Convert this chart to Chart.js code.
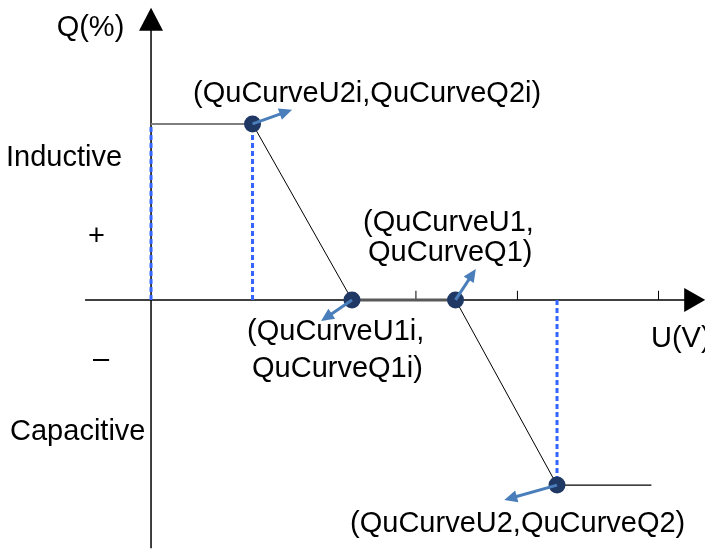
<!DOCTYPE html>
<html>
<head>
<meta charset="utf-8">
<script src="https://cdn.jsdelivr.net/npm/chart.js@4.4.1/dist/chart.umd.min.js"></script>
<style>
  html, body { margin: 0; padding: 0; background: #fff; }
  #wrap { width: 705px; height: 552px; position: relative; }
</style>
</head>
<body>
<div id="wrap"><canvas id="qu"></canvas></div>
<script>
// Q(U) characteristic curve: U in arbitrary units, Q in %
const curveU = [0, 1.0, 1.98, 3.0, 4.0, 4.93];
const curveQ = [50, 50, 0, 0, -52.6, -52.6];

// blue arrows pointing from each key point toward its label
const arrowFromU = [1.0, 1.98, 3.0, 4.0];
const arrowFromQ = [50, 0, 0, -52.6];
const arrowToU = [1.39, 1.675, 3.2, 3.48];
const arrowToQ = [54, -6, 8.8, -56.8];

// dashed projections onto the U axis
const dropU = [0, 1.0, 4.0];
const dropQ = [50, 50, -52.6];

// small tick marks on the U axis
const tickU = [2.61, 3.61, 5.0];

// axis extents
const axisU = [-0.65, 5.46];
const axisQ = [-70.5, 83];

const labels = [
  { text: 'Q(%)', u: -0.93, q: 77.2 },
  { text: '(QuCurveU2i,QuCurveQ2i)', u: 0.414, q: 58.5 },
  { text: 'Inductive', u: -1.429, q: 40.3 },
  { text: '+', u: -0.621, q: 17.9 },
  { text: '(QuCurveU1,', u: 2.089, q: 21.9 },
  { text: 'QuCurveQ1)', u: 2.138, q: 13.3 },
  { text: '(QuCurveU1i,', u: 0.946, q: -9.1 },
  { text: 'QuCurveQ1i)', u: 0.995, q: -19.6 },
  { text: 'U(V)', u: 4.926, q: -11.1 },
  { text: '\u2013', u: -0.571, q: -17.0 },
  { text: 'Capacitive', u: -1.389, q: -37.5 },
  { text: '(QuCurveU2,QuCurveQ2)', u: 1.961, q: -63.6 }
];

const segColors = ['#7f7f7f', '#000000', '#595959', '#000000', '#000000'];
const segWidths = [2, 1, 3, 1, 1.2];

const pts = (us, qs) => us.map((u, i) => ({ x: u, y: qs[i] }));

const datasets = [];
datasets.push({
  data: pts(curveU, curveQ),
  showLine: true,
  borderColor: '#000',
  borderWidth: 1,
  segment: {
    borderColor: ctx => segColors[ctx.p0DataIndex],
    borderWidth: ctx => segWidths[ctx.p0DataIndex]
  },
  pointRadius: curveU.map((u, i) => (i === 0 || i === curveU.length - 1) ? 0 : 7.5),
  pointBackgroundColor: '#1f3864',
  pointBorderColor: '#1f3864',
  pointBorderWidth: 2,
  clip: false
});
dropU.forEach((u, i) => {
  datasets.push({
    data: [{ x: u, y: 0 }, { x: u, y: dropQ[i] }],
    showLine: true, borderColor: '#3366ff', borderWidth: 3,
    borderDash: [5, 3], pointRadius: 0
  });
});
// axes
datasets.push({
  data: [{ x: axisU[0], y: 0 }, { x: axisU[1] - 0.2, y: 0 }],
  showLine: true, borderColor: '#000', borderWidth: 1.5, pointRadius: 0, clip: false
});
datasets.push({
  data: [{ x: 0, y: axisQ[0] }, { x: 0, y: axisQ[1] - 6 }],
  showLine: true, borderColor: '#000', borderWidth: 1.5, pointRadius: 0, clip: false
});
tickU.forEach(u => {
  datasets.push({
    data: [{ x: u, y: 0 }, { x: u, y: 2.6 }],
    showLine: true, borderColor: '#000', borderWidth: 1, pointRadius: 0
  });
});

function arrowHead(ctx, x0, y0, x1, y1, len, half) {
  const a = Math.atan2(y1 - y0, x1 - x0);
  ctx.beginPath();
  ctx.moveTo(x1, y1);
  ctx.lineTo(x1 - len * Math.cos(a) + half * Math.sin(a), y1 - len * Math.sin(a) - half * Math.cos(a));
  ctx.lineTo(x1 - len * Math.cos(a) - half * Math.sin(a), y1 - len * Math.sin(a) + half * Math.cos(a));
  ctx.closePath();
  ctx.fill();
}

const decor = {
  id: 'decor',
  afterDatasetsDraw(chart) {
    const ctx = chart.ctx;
    const xs = chart.scales.x, ys = chart.scales.y;
    ctx.save();
    // axis arrow heads
    ctx.fillStyle = '#000';
    const ox = xs.getPixelForValue(0), oy = ys.getPixelForValue(0);
    arrowHead(ctx, ox, oy, xs.getPixelForValue(axisU[1]), oy, 21, 12);
    arrowHead(ctx, ox, oy, ox, ys.getPixelForValue(axisQ[1]), 23, 12);
    // blue label arrows
    ctx.strokeStyle = '#4a7ebb';
    ctx.fillStyle = '#4a7ebb';
    ctx.lineWidth = 3;
    arrowFromU.forEach((u, i) => {
      const x0 = xs.getPixelForValue(u), y0 = ys.getPixelForValue(arrowFromQ[i]);
      const x1 = xs.getPixelForValue(arrowToU[i]), y1 = ys.getPixelForValue(arrowToQ[i]);
      const a = Math.atan2(y1 - y0, x1 - x0);
      ctx.beginPath();
      ctx.moveTo(x0, y0);
      ctx.lineTo(x1 - 10 * Math.cos(a), y1 - 10 * Math.sin(a));
      ctx.stroke();
      arrowHead(ctx, x0, y0, x1, y1, 13, 6);
    });
    // text
    ctx.fillStyle = '#000';
    ctx.font = "29px 'Liberation Sans', Arial, sans-serif";
    ctx.textAlign = 'left';
    ctx.textBaseline = 'middle';
    labels.forEach(l => {
      ctx.fillText(l.text, xs.getPixelForValue(l.u), ys.getPixelForValue(l.q));
    });
    ctx.restore();
  }
};

new Chart(document.getElementById('qu'), {
  type: 'scatter',
  data: { datasets },
  options: {
    responsive: true,
    maintainAspectRatio: false,
    animation: false,
    layout: { padding: 0 },
    plugins: { legend: { display: false }, tooltip: { enabled: false } },
    scales: {
      x: { type: 'linear', min: -1.488, max: 5.458, display: false },
      y: { type: 'linear', min: -71.6, max: 85.2, display: false }
    }
  },
  plugins: [decor]
});
</script>
</body>
</html>
